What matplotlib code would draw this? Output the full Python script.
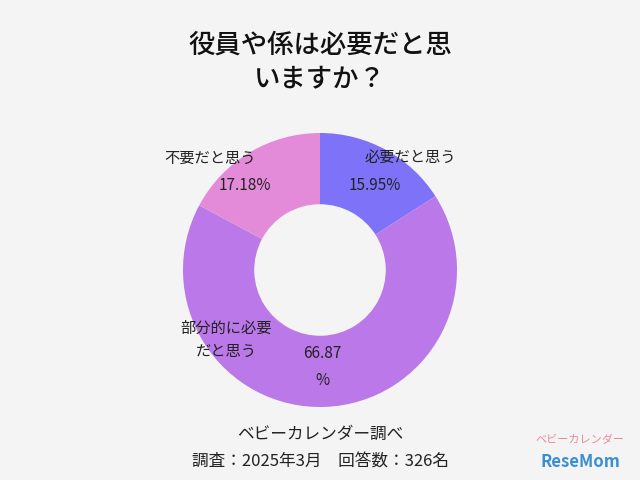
import matplotlib
matplotlib.use("Agg")
import matplotlib.pyplot as plt

plt.rcParams['font.family'] = ['Noto Sans CJK JP', 'DejaVu Sans']

categories = ["必要だと思う", "部分的に必要\nだと思う", "不要だと思う"]
values = [15.95, 66.87, 17.18]
value_labels = ["15.95%", "66.87\n%", "17.18%"]
colors = ["#7d72f8", "#bb78e9", "#e38bd9"]

fig = plt.figure(figsize=(6.4, 4.8), dpi=100)
fig.patch.set_facecolor("#f4f4f4")
R = 137
cx, cy = 320, 270
ax = fig.add_axes([(cx - R) / 640, (480 - cy - R) / 480, 2 * R / 640, 2 * R / 480])
ax.pie(values, colors=colors, startangle=90, counterclock=False, radius=1,
       wedgeprops=dict(width=0.52, edgecolor="none"))
ax.set_xlim(-1, 1); ax.set_ylim(-1, 1); ax.set_aspect("equal"); ax.axis("off")

def d(px, py):
    return ((px - cx) / R, (cy - py) / R)

cat_pos = [(410, 158), (226, 340), (210, 158)]
val_pos = [(375, 186), (322, 367), (245, 186)]
for c, p in zip(categories, cat_pos):
    ax.text(*d(*p), c, ha="center", va="center", fontsize=11, color="#222", clip_on=False, linespacing=1.5)
for v, p in zip(value_labels, val_pos):
    ax.text(*d(*p), v, ha="center", va="center", fontsize=11, color="#222", clip_on=False, linespacing=1.8)

fig.text(0.5, 1 - 62 / 480, "役員や係は必要だと思\nいますか？", ha="center", va="center",
         fontsize=19, color="#111", linespacing=1.3, fontweight="medium")
fig.text(0.5, 1 - 434 / 480, "ベビーカレンダー調べ", ha="center", va="center", fontsize=12, color="#222")
fig.text(0.5, 1 - 462 / 480, "調査：2025年3月　回答数：326名", ha="center", va="center", fontsize=12, color="#222")
fig.text(580 / 640, 1 - 440 / 480, "ベビーカレンダー", ha="center", va="center", fontsize=8, color="#e88a9a")
fig.text(580 / 640, 1 - 462 / 480, "ReseMom", ha="center", va="center", fontsize=12, color="#3a8fd0", fontweight="bold")

fig.savefig("out.png", dpi=100, facecolor=fig.get_facecolor())
